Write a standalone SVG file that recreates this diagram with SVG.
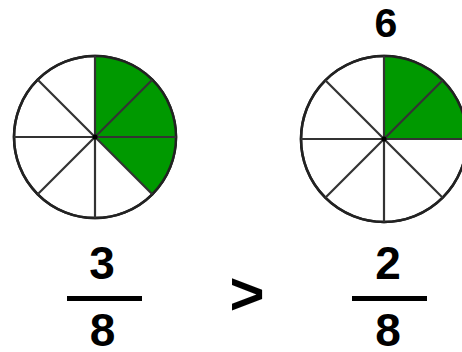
<svg xmlns="http://www.w3.org/2000/svg" width="462" height="352" viewBox="0 0 462 352">
<style>
.bg{fill:#ffffff}
.ring{fill:#ffffff;stroke:#222;stroke-width:2.5}
.sec{fill:#009900;stroke:none}
.spoke{stroke:#333;stroke-width:2.2;fill:none}
.dot{fill:#000}
.num{font-family:"Liberation Sans",Arial,sans-serif;font-weight:bold;fill:#000;text-anchor:middle}
.bar{stroke:#000;stroke-width:5}
</style>
<rect class="bg" x="0" y="0" width="462" height="352"/>
<g id="pie-left">
  <circle class="ring" cx="95" cy="137" r="81"/>
  <path class="sec" d="M95,137 L95,56 A81,81 0 0 1 152.3,194.3 Z"/>
  <circle cx="95" cy="137" r="81" fill="none" stroke="#222" stroke-width="2.5"/>
  <line class="spoke" x1="95" y1="56" x2="95" y2="218"/>
  <line class="spoke" x1="14" y1="137" x2="176" y2="137"/>
  <line class="spoke" x1="37.7" y1="79.7" x2="152.3" y2="194.3"/>
  <line class="spoke" x1="152.3" y1="79.7" x2="37.7" y2="194.3"/>
  <circle class="dot" cx="95" cy="137" r="2.5"/>
</g>
<g id="pie-right">
  <circle class="ring" cx="384" cy="139" r="83"/>
  <path class="sec" d="M384,139 L384,56 A83,83 0 0 1 467,139 Z"/>
  <circle cx="384" cy="139" r="83" fill="none" stroke="#222" stroke-width="2.5"/>
  <line class="spoke" x1="384" y1="56" x2="384" y2="222"/>
  <line class="spoke" x1="301" y1="139" x2="467" y2="139"/>
  <line class="spoke" x1="325.3" y1="80.3" x2="442.7" y2="197.7"/>
  <line class="spoke" x1="442.7" y1="80.3" x2="325.3" y2="197.7"/>
  <circle class="dot" cx="384" cy="139" r="2.5"/>
  <text class="num" x="386" y="37" font-size="41">6</text>
</g>
<g id="frac-left">
  <text class="num" x="102" y="279" font-size="46">3</text>
  <line class="bar" x1="67" y1="298.5" x2="142" y2="298.5"/>
  <text class="num" x="102.5" y="346" font-size="46">8</text>
</g>
<g id="compare">
  <text class="num" x="247" y="314" font-size="60">&gt;</text>
</g>
<g id="frac-right">
  <text class="num" x="388" y="279" font-size="46">2</text>
  <line class="bar" x1="352" y1="298.5" x2="427" y2="298.5"/>
  <text class="num" x="388" y="346" font-size="46">8</text>
</g>
<g id="connectors"></g>
</svg>
